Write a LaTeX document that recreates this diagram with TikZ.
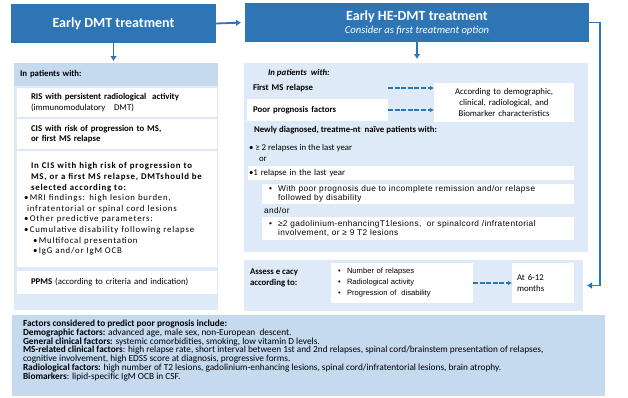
\documentclass[tikz,border=0pt]{standalone}
\usepackage{fontspec}
\setmainfont{Carlito}
\newfontfamily\arialfont{Liberation Sans}
\newfontfamily\spacedfont[LetterSpace=9]{Carlito}
\newfontfamily\spacedarial[LetterSpace=5]{Liberation Sans}
\usetikzlibrary{positioning,calc,arrows.meta}
\definecolor{myblue}{RGB}{46,117,182}
\definecolor{mylightblue}{RGB}{222,234,247}
\definecolor{mymidblue}{RGB}{197,217,239}
\newcommand\smallfont{\fontsize{8.8}{10.6}\selectfont}
\newcommand\arialsmall{\spacedarial\fontsize{8.3}{9}\selectfont}
\newcommand\bul{\makebox[9pt][l]{\textbullet}}

\begin{document}
\begin{tikzpicture}[x=1pt,y=-1pt,outer sep=0pt,
        headb/.style={
            fill=myblue,
            text=white,
            font=\fontsize{14}{13}\selectfont\bfseries,
            align=center,
            inner sep=0pt},
        panelb/.style={fill=mylightblue,anchor=north west,inner sep=0pt},
        whiteb/.style={fill=white,anchor=north west,inner ysep=0pt,align=left,font=\smallfont},
        plain/.style={anchor=west,inner sep=0pt,align=left,font=\smallfont},
        arr/.style={myblue,line width=1.8pt,-{Latex[length=5pt,width=7pt]}},
        dasharr/.style={myblue,line width=1.1pt,dash pattern=on 5pt off 1.6pt,-{Latex[length=4pt,width=4.5pt]}},
    ]
    \useasboundingbox (0,0) rectangle (628,397);

    \node[headb,minimum width=205pt,minimum height=39pt] (EarlyDMT) at (113.5,23.5) {Early DMT treatment};
    \node[headb,minimum width=344pt,minimum height=39pt] (EarlyHE) at (417,22.5) {Early HE-DMT treatment\\{\fontsize{10.6}{11}\selectfont\mdseries\itshape Consider as first treatment option}};

    % left column
    \node[panelb,minimum width=204pt,minimum height=247pt] (LeftPanel) at (14,63) {};
    \node[panelb,fill=mymidblue,minimum height=23pt,text width=192pt,inner xsep=6pt,align=left,font=\smallfont\bfseries] (LeftHead) at (14,63) {In patients with:};
    \node[whiteb,minimum height=29pt,text width=172pt,inner xsep=14pt] (RIS) at (17,88) {\textbf{RIS with persistent radiological\ \ activity}\\(immunomodulatory\ \ \ DMT)};
    \node[whiteb,minimum height=30pt,text width=172pt,inner xsep=14pt] (CIS) at (17,119) {\textbf{CIS with risk of progression to MS,}\\\textbf{or first MS relapse}};
    \node[whiteb,font=\spacedfont\smallfont,minimum height=116pt,text width=186pt,inner xsep=7pt] (HighRisk) at (17,151) {
        \hspace*{7pt}\textbf{In CIS with high risk of progression to}\\
        \hspace*{7pt}\textbf{MS, or a first MS relapse,\ DMTshould be}\\
        \hspace*{7pt}\textbf{selected according to:}\\
        \textbullet\,MRI findings: high lesion burden,\\
        \hspace*{3pt}infratentorial or spinal cord lesions\\
        \textbullet\,Other predictive parameters:\\
        \textbullet\,Cumulative disability following relapse\\
        \hspace*{9pt}\textbullet\,Multifocal presentation\\
        \hspace*{9pt}\textbullet\,IgG and/or IgM OCB};
    \node[whiteb,minimum height=23pt,text width=172pt,inner xsep=14pt] (PPMS) at (17,271) {\textbf{PPMS} (according to criteria and indication)};

    % right column
    \node[panelb,minimum width=344pt,minimum height=189pt] (RightPanel) at (244,63) {};
    \node[plain,font=\smallfont\bfseries\itshape] (InPat) at (268,73) {In patients\ \ with:};
    \node[plain,font=\smallfont\bfseries,text width=129pt,inner xsep=6pt] (FirstMS) at (247,88) {First MS relapse};
    \node[whiteb,anchor=west,font=\smallfont\bfseries,minimum height=22pt,text width=129pt,inner xsep=6pt] (Poor) at (247,110) {Poor prognosis factors};
    \node[whiteb,align=center,minimum height=39pt,text width=140pt,inner xsep=0pt] (Criteria) at (434,83) {According to demographic,\\clinical, radiological, and\\Biomarker characteristics};
    \draw[dasharr] (FirstMS.east) -- (FirstMS.east -| Criteria.west);
    \draw[dasharr] (Poor.east) -- (Poor.east -| Criteria.west);

    \node[plain,font=\smallfont\bfseries] (Newly) at (254,130) {Newly diagnosed, treatme-nt\ \ naïve patients with:};
    \node[plain] (TwoRel) at (249,148) {\textbullet\ ≥ 2 relapses in the last year};
    \node[plain] (OrA) at (259,159) {or};
    \node[whiteb,minimum height=14pt,text width=324pt,inner xsep=1pt] (OneRel) at (248,166) {\textbullet1 relapse in the last year};
    \node[whiteb,font=\arialsmall,minimum height=20pt,text width=298pt,inner xsep=7pt] (PoorProg) at (262,184) {\bul With poor prognosis due to incomplete remission and/or relapse\\\hspace*{9pt}followed by disability};
    \node[plain,font=\arialsmall] (AndOr) at (264,211) {and/or};
    \node[whiteb,font=\arialsmall,minimum height=23pt,text width=298pt,inner xsep=7pt] (Gado) at (262,217) {\bul ≥2 gadolinium-enhancingT1lesions,\ \ or spinalcord /infratentorial\\\hspace*{9pt}involvement,\ or ≥ 9 T2 lesions};

    % efficacy check
    \node[panelb,minimum width=339pt,minimum height=51pt] (Assess) at (244,260) {};
    \node[plain,font=\smallfont\bfseries] (AssessTxt) at (250,278) {Assess e cacy\\according to:};
    \node[whiteb,font=\arialfont\fontsize{7.6}{11}\selectfont,minimum height=40pt,text width=128pt,inner xsep=7pt] (Measures) at (331,263) {\bul Number of relapses\\\bul Radiological activity\\\bul Progression of\ \ disability};
    \node[whiteb,minimum height=40pt,text width=52pt,inner xsep=5pt] (Months) at (512,263) {At 6-12\\months};
    \draw[dasharr] (Measures.east) -- (Months.west);

    \draw[arr,shorten >=4pt] (EarlyDMT.east) -- (EarlyHE.west);
    \draw[arr,shorten >=2pt] (EarlyDMT.south) -- (EarlyDMT.south |- LeftPanel.north);
    \draw[arr,shorten >=4pt] (EarlyHE.south) -- (EarlyHE.south |- RightPanel.north);
    \draw[arr,shorten >=4pt] (EarlyHE.east) -- ++(11,0) |- (Assess.east);

    % prognosis factors
    \node[panelb,fill=mymidblue,minimum width=593pt,minimum height=81pt] (FactorPanel) at (12,315) {};
    \node[anchor=north west,inner sep=0pt,align=left,font=\fontsize{9.3}{8.8}\selectfont] (Factors) at (23,320) {
        \textbf{Factors considered to predict poor prognosis include:}\\
        \textbf{Demographic factors:} advanced age, male sex, non-European\ \ descent.\\
        \textbf{General clinical factors:} systemic comorbidities, smoking, low vitamin D levels.\\
        \textbf{MS-related clinical factors}: high relapse rate, short interval between 1st and 2nd relapses, spinal cord/brainstem presentation of relapses,\\
        cognitive involvement, high EDSS score at diagnosis, progressive forms.\\
        \textbf{Radiological factors:} high number of T2 lesions, gadolinium-enhancing lesions, spinal cord/infratentorial lesions, brain atrophy.\\
        \textbf{Biomarkers}: lipid-specific IgM OCB in CSF.};
\end{tikzpicture}
\end{document}
